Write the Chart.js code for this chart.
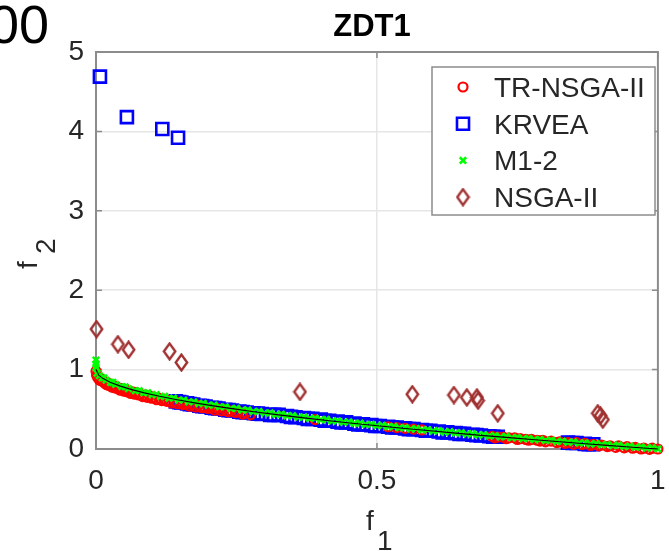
<!DOCTYPE html>
<html>
<head>
<meta charset="utf-8">
<style>
  html, body { margin: 0; padding: 0; background: #fff; overflow: hidden; }
  #wrap { width: 669px; height: 551px; position: relative; }
</style>
</head>
<body>
<div id="wrap"><canvas id="c" width="669" height="551"></canvas></div>
<script src="https://cdn.jsdelivr.net/npm/chart.js@4/dist/chart.umd.min.js"></script>
<script>
// tick values
const xTickVals = [0, 0.5, 1];
const yTickVals = [0, 1, 2, 3, 4, 5];
const seriesNames = ['TR-NSGA-II', 'KRVEA', 'M1-2', 'NSGA-II'];

// true pareto front (black line)
const pfF1 = [0, 0.005, 0.012, 0.025, 0.042, 0.062, 0.086, 0.113, 0.142, 0.173, 0.206, 0.242, 0.281, 0.325, 0.37, 0.415, 0.46, 0.505, 0.55, 0.595, 0.64, 0.685, 0.73, 0.775, 0.82, 0.865, 0.91, 0.955, 1.0];
const pfF2 = [1.0, 0.929, 0.890, 0.842, 0.795, 0.751, 0.707, 0.664, 0.623, 0.584, 0.546, 0.508, 0.470, 0.430, 0.392, 0.356, 0.322, 0.289, 0.258, 0.229, 0.200, 0.172, 0.146, 0.120, 0.094, 0.070, 0.046, 0.023, 0.0];

// TR-NSGA-II
const trF1 = [0.000, 0.002, 0.004, 0.007, 0.010, 0.013, 0.017, 0.021, 0.025, 0.030, 0.035, 0.040, 0.046, 0.052, 0.058, 0.065, 0.072, 0.079, 0.087, 0.095, 0.103, 0.112, 0.121, 0.130, 0.140, 0.150, 0.160, 0.171, 0.182, 0.193, 0.205, 0.217, 0.229, 0.241, 0.254, 0.267,
  0.001, 0.003, 0.006, 0.009, 0.015, 0.019, 0.023, 0.028, 0.033, 0.038, 0.043, 0.049, 0.055, 0.062, 0.069, 0.076, 0.083, 0.091, 0.099, 0.108, 0.117, 0.126, 0.135, 0.145, 0.155, 0.166, 0.177, 0.188, 0.199, 0.211, 0.223, 0.235, 0.248, 0.261, 0.275,
  0.39, 0.52, 0.535, 0.55, 0.565, 0.58,
  0.705, 0.715, 0.725, 0.735, 0.745, 0.755, 0.765, 0.775, 0.785, 0.795, 0.81, 0.825, 0.84, 0.855, 0.87, 0.885, 0.90, 0.915, 0.93, 0.945, 0.96, 0.975, 0.99, 1.0,
  0.71, 0.73, 0.75, 0.77, 0.79, 0.80, 0.82, 0.835, 0.85, 0.865, 0.88, 0.895, 0.91, 0.925, 0.94, 0.955, 0.97, 0.985];
const trF2 = [0.98, 0.93, 0.91, 0.89, 0.87, 0.86, 0.84, 0.83, 0.82, 0.80, 0.79, 0.77, 0.76, 0.75, 0.73, 0.72, 0.71, 0.69, 0.68, 0.67, 0.65, 0.64, 0.63, 0.61, 0.60, 0.59, 0.57, 0.56, 0.55, 0.53, 0.52, 0.51, 0.50, 0.48, 0.47, 0.46,
  0.93, 0.90, 0.87, 0.86, 0.83, 0.81, 0.80, 0.78, 0.77, 0.76, 0.74, 0.73, 0.72, 0.70, 0.69, 0.68, 0.66, 0.65, 0.64, 0.62, 0.61, 0.60, 0.58, 0.57, 0.56, 0.54, 0.53, 0.52, 0.51, 0.49, 0.48, 0.47, 0.46, 0.44, 0.43,
  0.37, 0.28, 0.27, 0.26, 0.25, 0.24,
  0.16, 0.15, 0.15, 0.14, 0.14, 0.13, 0.12, 0.12, 0.11, 0.11, 0.10, 0.09, 0.08, 0.08, 0.07, 0.06, 0.05, 0.04, 0.04, 0.03, 0.02, 0.01, 0.01, 0.0,
  0.14, 0.13, 0.12, 0.11, 0.10, 0.09, 0.08, 0.07, 0.06, 0.055, 0.045, 0.04, 0.03, 0.02, 0.015, 0.01, 0.0, -0.005];

// KRVEA
const krF1 = [0.007, 0.055, 0.118, 0.146,
  0.142, 0.152, 0.162, 0.173, 0.184, 0.195, 0.206, 0.218, 0.230, 0.242, 0.255, 0.268, 0.281, 0.295, 0.310, 0.325, 0.340, 0.355, 0.370, 0.385, 0.400, 0.415, 0.430, 0.445, 0.460, 0.475, 0.490, 0.505, 0.520, 0.535, 0.550, 0.565, 0.580, 0.595, 0.610, 0.625, 0.640, 0.655, 0.670, 0.685, 0.700, 0.715,
  0.84, 0.855, 0.87, 0.885,
  0.148, 0.167, 0.189, 0.212, 0.236, 0.261, 0.288, 0.317, 0.347, 0.377, 0.407, 0.437, 0.467, 0.497, 0.527, 0.557, 0.587, 0.617, 0.647, 0.677, 0.707, 0.848, 0.877];
const krF2 = [4.69, 4.18, 4.03, 3.92,
  0.60, 0.585, 0.575, 0.56, 0.545, 0.535, 0.52, 0.51, 0.495, 0.485, 0.47, 0.46, 0.45, 0.44, 0.43, 0.43, 0.415, 0.40, 0.39, 0.38, 0.37, 0.355, 0.345, 0.335, 0.32, 0.31, 0.30, 0.29, 0.28, 0.27, 0.26, 0.25, 0.24, 0.23, 0.22, 0.21, 0.20, 0.19, 0.18, 0.17, 0.16, 0.155,
  0.08, 0.075, 0.065, 0.06,
  0.59, 0.565, 0.54, 0.515, 0.49, 0.465, 0.445, 0.43, 0.405, 0.38, 0.355, 0.335, 0.31, 0.29, 0.27, 0.25, 0.23, 0.21, 0.19, 0.175, 0.155, 0.075, 0.06];

// M1-2
const m12F1 = [0, 0, 0, 0.002, 0.006, 0.011, 0.018, 0.026, 0.035, 0.046, 0.058, 0.07, 0.085, 0.1, 0.115, 0.13, 0.147, 0.165, 0.183, 0.2, 0.22, 0.24, 0.26, 0.28, 0.3, 0.32, 0.34, 0.36, 0.38, 0.4, 0.42, 0.44, 0.46, 0.48, 0.5, 0.52, 0.54, 0.56, 0.58, 0.6, 0.62, 0.64, 0.66, 0.68, 0.7, 0.72, 0.74, 0.76, 0.78, 0.8, 0.82, 0.84, 0.86, 0.88, 0.9, 0.92, 0.94, 0.96, 0.98, 1.0,
  0.014, 0.03, 0.052, 0.077, 0.092, 0.107, 0.122, 0.138, 0.156, 0.174, 0.191, 0.21, 0.23, 0.25, 0.27, 0.29, 0.31, 0.33, 0.35, 0.37, 0.39, 0.41, 0.43, 0.45, 0.47, 0.49, 0.51, 0.53, 0.55, 0.57, 0.59, 0.61, 0.63, 0.65, 0.67, 0.69, 0.71, 0.73, 0.75, 0.77, 0.79, 0.81, 0.83, 0.85, 0.87, 0.89, 0.91, 0.93, 0.95, 0.97, 0.99];
const m12F2 = [1.12, 1.07, 1.03, 0.955, 0.923, 0.895, 0.866, 0.839, 0.813, 0.786, 0.759, 0.735, 0.708, 0.684, 0.661, 0.639, 0.617, 0.594, 0.572, 0.553, 0.531, 0.510, 0.490, 0.471, 0.452, 0.434, 0.417, 0.400, 0.384, 0.368, 0.352, 0.337, 0.322, 0.307, 0.293, 0.279, 0.265, 0.252, 0.238, 0.225, 0.213, 0.200, 0.188, 0.175, 0.163, 0.151, 0.140, 0.128, 0.117, 0.106, 0.094, 0.083, 0.073, 0.062, 0.051, 0.041, 0.030, 0.020, 0.010, 0.000,
  0.894, 0.839, 0.784, 0.735, 0.709, 0.685, 0.663, 0.641, 0.617, 0.595, 0.575, 0.554, 0.532, 0.512, 0.492, 0.473, 0.455, 0.438, 0.420, 0.404, 0.388, 0.372, 0.356, 0.341, 0.326, 0.312, 0.298, 0.284, 0.270, 0.257, 0.244, 0.231, 0.218, 0.206, 0.193, 0.181, 0.169, 0.158, 0.146, 0.135, 0.123, 0.112, 0.101, 0.090, 0.079, 0.069, 0.058, 0.048, 0.037, 0.027, 0.017];

// NSGA-II
const nsF1 = [0.001, 0.039, 0.058, 0.131, 0.152, 0.363, 0.563, 0.637, 0.660, 0.678, 0.680, 0.715, 0.893, 0.898, 0.902];
const nsF2 = [1.51, 1.32, 1.25, 1.23, 1.09, 0.72, 0.69, 0.68, 0.65, 0.65, 0.61, 0.45, 0.45, 0.42, 0.37];

const FONT = "'Liberation Sans', Arial, Helvetica, sans-serif";
const TXT = '#262626';

const toPts = (xs, ys) => xs.map((x, i) => ({ x: x, y: ys[i] }));

// tall diamond marker like matlab's
function diamondMark(color) {
  const c = document.createElement('canvas');
  c.width = 15; c.height = 19;
  const g = c.getContext('2d');
  g.strokeStyle = color; g.lineWidth = 2.4;
  g.beginPath();
  g.moveTo(7.5, 1.6); g.lineTo(13.2, 9.5); g.lineTo(7.5, 17.4); g.lineTo(1.8, 9.5);
  g.closePath(); g.stroke();
  return c;
}

const gridColor = (vals) => (c) => {
  const v = c.tick ? c.tick.value : null;
  return (v === vals[0] || v === vals[vals.length - 1]) ? 'rgba(0,0,0,0)' : '#e6e6e6';
};

const frame = {
  id: 'frame',
  beforeDatasetsDraw(chart) {
    const { ctx, chartArea: a, scales } = chart;
    ctx.save();
    ctx.strokeStyle = '#8c8c8c';
    ctx.lineWidth = 2;
    ctx.strokeRect(a.left, a.top, a.right - a.left, a.bottom - a.top);
    ctx.lineWidth = 1.5;
    ctx.beginPath();
    xTickVals.forEach(v => {
      const px = scales.x.getPixelForValue(v);
      ctx.moveTo(px, a.bottom); ctx.lineTo(px, a.bottom - 6);
      ctx.moveTo(px, a.top); ctx.lineTo(px, a.top + 6);
    });
    yTickVals.forEach(v => {
      const py = scales.y.getPixelForValue(v);
      ctx.moveTo(a.left, py); ctx.lineTo(a.left + 6, py);
      ctx.moveTo(a.right, py); ctx.lineTo(a.right - 6, py);
    });
    ctx.stroke();
    ctx.restore();
  },
  afterDatasetsDraw(chart) {
    // legend box inside the axes, top right
    const ctx = chart.ctx;
    const bx = 432, by = 67, bw = 223, bh = 148;
    ctx.save();
    ctx.fillStyle = '#fff';
    ctx.fillRect(bx, by, bw, bh);
    ctx.strokeStyle = '#8c8c8c';
    ctx.lineWidth = 1.5;
    ctx.strokeRect(bx, by, bw, bh);
    ctx.font = '28px ' + FONT;
    ctx.textBaseline = 'alphabetic';
    ctx.textAlign = 'left';
    seriesNames.forEach((name, i) => {
      const ds = chart.data.datasets.find(d => d.label === name);
      const rowY = 87 + i * 36.7;
      ctx.strokeStyle = ds.borderColor;
      ctx.fillStyle = 'rgba(0,0,0,0)';
      ctx.lineWidth = ds.borderWidth;
      Chart.helpers.drawPoint(ctx, {
        pointStyle: ds.pointStyle, radius: ds.pointRadius, rotation: 0, borderWidth: ds.borderWidth
      }, 463, rowY);
      ctx.fillStyle = TXT;
      ctx.fillText(name, 494, rowY + 10);
    });
    ctx.restore();
  },
  afterDraw(chart) {
    const ctx = chart.ctx;
    ctx.save();
    ctx.fillStyle = '#000';
    // leftover text from neighbouring panel
    ctx.font = '54px ' + FONT;
    ctx.textAlign = 'right';
    ctx.textBaseline = 'alphabetic';
    ctx.fillText('00', 49, 43);
    // title
    ctx.font = 'bold 31px ' + FONT;
    ctx.textAlign = 'center';
    ctx.fillText('ZDT1', 372, 36);
    // x label f_1
    ctx.fillStyle = TXT;
    ctx.font = '28px ' + FONT;
    ctx.textAlign = 'left';
    ctx.fillText('f', 366, 530);
    ctx.fillText('1', 377, 550);
    // y label f_2
    ctx.translate(37, 269);
    ctx.rotate(-Math.PI / 2);
    ctx.fillText('f', 0, 0);
    ctx.fillText('2', 15, 18);
    ctx.restore();
  }
};

new Chart(document.getElementById('c'), {
  type: 'scatter',
  data: {
    datasets: [
      {
        label: 'pareto front', data: toPts(pfF1, pfF2), showLine: true,
        borderColor: '#000', borderWidth: 1.1, pointRadius: 0, order: 0, clip: false
      },
      {
        label: 'M1-2', data: toPts(m12F1, m12F2), pointStyle: 'crossRot', pointRadius: 4.5,
        borderColor: '#00ff00', backgroundColor: '#00ff00', borderWidth: 2.6, order: 1, clip: false
      },
      {
        label: 'NSGA-II', data: toPts(nsF1, nsF2), pointStyle: diamondMark('#a03030'), pointRadius: 7,
        borderColor: '#a03030', backgroundColor: 'rgba(0,0,0,0)', borderWidth: 2.4, order: 2, clip: false
      },
      {
        label: 'TR-NSGA-II', data: toPts(trF1, trF2), pointStyle: 'circle', pointRadius: 4.5,
        borderColor: '#ff0000', backgroundColor: 'rgba(0,0,0,0)', borderWidth: 2.2, order: 3, clip: false
      },
      {
        label: 'KRVEA', data: toPts(krF1, krF2), pointStyle: 'rect', pointRadius: 8.5,
        borderColor: '#0000ff', backgroundColor: 'rgba(0,0,0,0)', borderWidth: 2.6, order: 4, clip: false
      }
    ]
  },
  options: {
    responsive: false,
    devicePixelRatio: 1,
    animation: false,
    events: [],
    layout: { padding: { left: 0, right: 4, top: 52, bottom: 0 } },
    plugins: { legend: { display: false }, tooltip: { enabled: false }, title: { display: false } },
    scales: {
      x: {
        type: 'linear', min: 0, max: 1,
        afterBuildTicks: s => { s.ticks = xTickVals.map(v => ({ value: v })); },
        afterFit: s => { s.height = 102; s.paddingLeft = 0; s.paddingRight = 0; },
        ticks: {
          autoSkip: false, maxRotation: 0, padding: 15, color: TXT,
          font: { family: FONT, size: 28, lineHeight: 1.2 },
          callback: v => String(v)
        },
        grid: { color: gridColor(xTickVals), lineWidth: 1.5, drawTicks: false },
        border: { display: false }
      },
      y: {
        type: 'linear', min: 0, max: 5,
        afterBuildTicks: s => { s.ticks = yTickVals.map(v => ({ value: v })); },
        afterFit: s => { s.width = 96; s.paddingTop = 0; s.paddingBottom = 0; },
        ticks: {
          autoSkip: false, padding: 12, color: TXT,
          font: { family: FONT, size: 28, lineHeight: 1.2 },
          callback: v => String(v)
        },
        grid: { color: gridColor(yTickVals), lineWidth: 1.5, drawTicks: false },
        border: { display: false }
      }
    }
  },
  plugins: [frame]
});
</script>
</body>
</html>
